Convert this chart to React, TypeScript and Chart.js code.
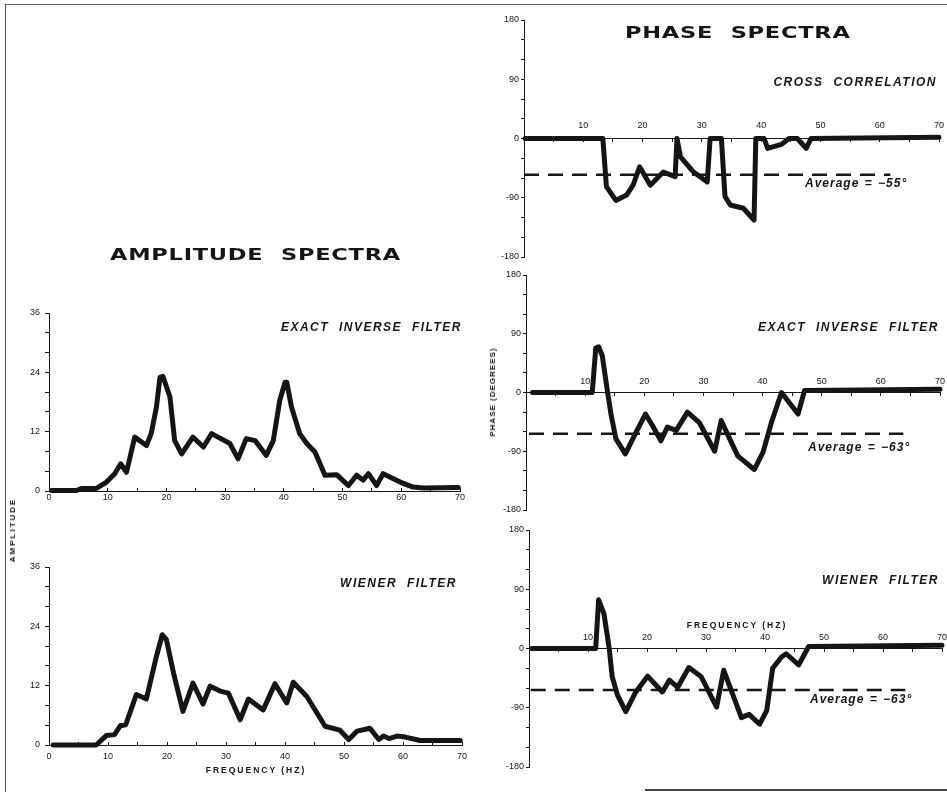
import React, { useEffect, useRef } from "react";
import { Chart, registerables } from "chart.js";

Chart.register(...registerables);

// ---------------- data ----------------
const ampExactFreq = [0.4, 4.7, 5.5, 8, 9.8, 11.2, 12.2, 13.2, 14.6, 16.6, 17.4, 18.3, 18.9, 19.4, 20.6, 21.4, 22.6, 24.5, 26.3, 27.7, 30.8, 32.2, 33.6, 35.1, 37, 38.2, 39.3, 40.2, 40.5, 41.3, 42.7, 43.9, 45.3, 47, 49, 51, 52.4, 53.5, 54.4, 55.8, 56.9, 59.8, 62, 63.8, 69.7];
const ampExactValues = [0.1, 0.1, 0.5, 0.5, 1.8, 3.5, 5.5, 3.8, 10.9, 9.2, 11.6, 17, 23, 23.2, 19, 10.2, 7.5, 10.9, 8.9, 11.6, 9.6, 6.5, 10.6, 10.2, 7.2, 10.2, 18.3, 22, 22, 17, 11.6, 9.6, 7.9, 3.2, 3.3, 1.1, 3.2, 2.2, 3.5, 1.1, 3.5, 1.8, 0.8, 0.6, 0.7];

const ampWienerFreq = [0.7, 8, 9.7, 11.1, 12.1, 13, 14.8, 16.5, 18.2, 19.2, 19.9, 21.1, 22.7, 24.4, 26.1, 27.3, 29, 30.4, 32.4, 33.8, 36.3, 38.3, 40.3, 41.4, 43.7, 46.8, 49.3, 50.8, 52.2, 54.4, 55.9, 56.7, 57.6, 59, 60.4, 62.9, 69.7];
const ampWienerValues = [0, 0, 1.9, 2.1, 3.9, 4.1, 10.2, 9.3, 17.9, 22.3, 21.3, 14.6, 6.8, 12.5, 8.3, 11.9, 10.9, 10.5, 5.1, 9.3, 7.1, 12.4, 8.5, 12.7, 9.8, 3.8, 3.0, 1.1, 2.8, 3.4, 1.1, 1.8, 1.3, 1.8, 1.6, 0.9, 0.9];

const phaseCrossFreq = [0.2, 13.3, 13.9, 15.5, 17.3, 18.4, 19.5, 21.3, 23.5, 25.5, 25.8, 26.4, 28.6, 30.9, 31.4, 33.3, 33.9, 34.8, 37, 38.8, 39.1, 40.5, 41.1, 43.4, 44.7, 46.1, 47.6, 48.4, 70];
const phaseCrossValues = [0, 0, -73, -94, -86, -71, -43, -71, -51, -58, 0, -28, -51, -66, 0, 0, -88, -101, -106, -124, 0, 0, -15, -9, 0, 0, -15, 0, 2];

const phaseExactFreq = [1.1, 11.2, 11.8, 12.3, 12.9, 13.8, 14.4, 15.2, 16.8, 18.6, 20.2, 21.4, 22.8, 23.9, 25.4, 27.3, 29.3, 31.9, 33, 35.8, 38.6, 40.1, 41.5, 43.2, 46, 47.1, 70];
const phaseExactValues = [0, 0, 68, 70, 56, 0, -35, -71, -94, -61, -33, -51, -74, -53, -58, -30, -46, -90, -43, -97, -118, -91, -46, 0, -33, 3, 5];

const phaseWienerFreq = [0.5, 11.3, 11.8, 12.7, 13.6, 14.1, 15, 16.4, 18.1, 20.1, 22.6, 23.8, 25.2, 27.1, 29.2, 31.8, 33, 36, 37.3, 39.1, 40.3, 41.3, 42.8, 43.6, 45.7, 47.4, 70];
const phaseWienerValues = [0, 0, 74, 53, 0, -43, -71, -96, -66, -42, -66, -48, -59, -29, -43, -89, -33, -105, -100, -115, -94, -30, -13, -8, -25, 3, 5];

const averageCross = -55;
const averageExact = -63;
const averageWiener = -63;
const averageCrossSpan = [0, 61.8];
const averageExactSpan = [0.5, 63.8];
const averageWienerSpan = [0.3, 63.8];

const amplitudeTickLabels = [0, 12, 24, 36];
const phaseTickLabels = [-180, -90, 0, 90, 180];
const ampFreqTickLabels = [0, 10, 20, 30, 40, 50, 60, 70];
const phaseFreqTickLabels = [10, 20, 30, 40, 50, 60, 70];

// ---------------- layout ----------------
const W = 947;
const H = 792;
const INK = "#151515";
const TICK_FONT = { family: "'Liberation Sans', Arial, sans-serif", size: 9 };

type Area = { left: number; top: number; right: number; bottom: number };

const pts = (f: number[], v: number[]) => f.map((x, i) => ({ x, y: v[i] }));

function curveDataset(f: number[], v: number[]) {
  return {
    data: pts(f, v),
    borderColor: INK,
    borderWidth: 5,
    pointRadius: 0,
    tension: 0,
    borderJoinStyle: "round",
    borderCapStyle: "round",
    clip: false,
  };
}

function avgDataset(span: number[], value: number) {
  return {
    data: [
      { x: span[0], y: value },
      { x: span[1], y: value },
    ],
    borderColor: INK,
    borderWidth: 2.5,
    borderDash: [15, 9],
    pointRadius: 0,
    clip: false,
  };
}

function amplitudeConfig(f: number[], v: number[], area: Area, xPad: number) {
  const yW = 40;
  const xH = 24;
  return {
    type: "line",
    data: { datasets: [curveDataset(f, v)] },
    options: {
      responsive: false,
      animation: false,
      devicePixelRatio: 1,
      events: [],
      layout: {
        padding: {
          left: area.left - yW,
          top: area.top,
          right: W - area.right,
          bottom: H - area.bottom - xH,
        },
      },
      plugins: { legend: { display: false }, tooltip: { enabled: false } },
      scales: {
        x: {
          type: "linear",
          position: "bottom",
          min: 0,
          max: 70,
          afterFit: (s: any) => {
            s.height = xH;
          },
          border: { display: true, color: INK, width: 1 },
          grid: { drawOnChartArea: false, tickLength: -3, color: INK, tickColor: INK, tickWidth: 1 },
          ticks: {
            stepSize: 5,
            autoSkip: false,
            maxRotation: 0,
            padding: xPad,
            color: INK,
            font: TICK_FONT,
            callback: (val: number) => (ampFreqTickLabels.includes(val) ? String(val) : ""),
          },
        },
        y: {
          type: "linear",
          position: "left",
          min: 0,
          max: 36,
          afterFit: (s: any) => {
            s.width = yW;
          },
          border: { display: true, color: INK, width: 1 },
          grid: { drawOnChartArea: false, tickLength: 4, color: INK, tickColor: INK, tickWidth: 1 },
          ticks: {
            stepSize: 4,
            autoSkip: false,
            padding: 5,
            color: INK,
            font: TICK_FONT,
            callback: (val: number) => (amplitudeTickLabels.includes(val) ? String(val) : ""),
          },
        },
      },
    },
  };
}

function phaseConfig(f: number[], v: number[], avg: number, span: number[], area: Area, xPad: number) {
  const yW = 40;
  return {
    type: "line",
    data: { datasets: [curveDataset(f, v), avgDataset(span, avg)] },
    options: {
      responsive: false,
      animation: false,
      devicePixelRatio: 1,
      events: [],
      layout: {
        padding: {
          left: area.left - yW,
          top: area.top,
          right: W - area.right,
          bottom: H - area.bottom,
        },
      },
      plugins: { legend: { display: false }, tooltip: { enabled: false } },
      scales: {
        x: {
          type: "linear",
          position: { y: 0 },
          min: 0,
          max: 70,
          border: { display: true, color: INK, width: 1 },
          grid: { drawOnChartArea: false, tickLength: 3, color: INK, tickColor: INK, tickWidth: 1 },
          ticks: {
            stepSize: 5,
            autoSkip: false,
            maxRotation: 0,
            padding: xPad,
            color: INK,
            font: TICK_FONT,
            callback: (val: number) => (phaseFreqTickLabels.includes(val) ? String(val) : ""),
          },
        },
        y: {
          type: "linear",
          position: "left",
          min: -180,
          max: 180,
          afterFit: (s: any) => {
            s.width = yW;
          },
          border: { display: true, color: INK, width: 1 },
          grid: { drawOnChartArea: false, tickLength: 3, color: INK, tickColor: INK, tickWidth: 1 },
          ticks: {
            stepSize: 30,
            autoSkip: false,
            padding: 2,
            color: INK,
            font: TICK_FONT,
            callback: (val: number) => (phaseTickLabels.includes(val) ? String(val) : ""),
          },
        },
      },
    },
  };
}

function PanelChart({ build }: { build: () => any }) {
  const ref = useRef<HTMLCanvasElement | null>(null);
  useEffect(() => {
    if (!ref.current) return;
    const chart = new Chart(ref.current, build());
    return () => chart.destroy();
  }, []);
  return (
    <canvas
      ref={ref}
      width={W}
      height={H}
      style={{ position: "absolute", left: 0, top: 0, width: W, height: H }}
    />
  );
}

const panelFont: React.CSSProperties = {
  fontFamily: "'Liberation Sans', Arial, sans-serif",
  fontWeight: "bold",
  fontStyle: "italic",
  fontSize: 12,
  letterSpacing: "1.5px",
  wordSpacing: "5px",
  color: INK,
  whiteSpace: "nowrap",
  lineHeight: 1,
  position: "absolute",
};

const titleFont: React.CSSProperties = {
  fontFamily: "'DejaVu Sans', sans-serif",
  fontWeight: "bold",
  fontSize: 15,
  letterSpacing: "0.5px",
  wordSpacing: "6px",
  color: INK,
  whiteSpace: "nowrap",
  lineHeight: 1,
  position: "absolute",
  transformOrigin: "left center",
};

const axisTitleFont: React.CSSProperties = {
  fontFamily: "'Liberation Sans', Arial, sans-serif",
  fontWeight: "bold",
  fontSize: 8.5,
  letterSpacing: "2px",
  color: INK,
  whiteSpace: "nowrap",
  lineHeight: 1,
  position: "absolute",
};

function RightLabel({ right, cy, text }: { right: number; cy: number; text: string }) {
  return <div style={{ ...panelFont, right: W - right - 2, top: cy, transform: "translateY(-50%)" }}>{text}</div>;
}

function AvgLabel({ left, cy, text }: { left: number; cy: number; text: string }) {
  return <div style={{ ...panelFont, letterSpacing: "1px", wordSpacing: "1px", left, top: cy, transform: "translateY(-50%)" }}>{text}</div>;
}

export default function App() {
  const areaAmpTop = { left: 49, right: 460, top: 313, bottom: 491 };
  const areaAmpBot = { left: 49, right: 462, top: 567, bottom: 745 };
  const areaPhTop = { left: 524, right: 939, top: 20, bottom: 257 };
  const areaPhMid = { left: 526, right: 940, top: 275, bottom: 510 };
  const areaPhBot = { left: 529, right: 942, top: 530, bottom: 767 };

  return (
    <div style={{ position: "fixed", left: 0, top: 0, width: W, height: H, background: "#fff", overflow: "hidden" }}>
      {/* scanned frame lines */}
      <div style={{ position: "absolute", left: 5, top: 4, width: W - 5, height: 1, background: "#666" }} />
      <div style={{ position: "absolute", left: 5, top: 4, width: 1, height: H - 4, background: "#555" }} />
      <div style={{ position: "absolute", left: 645, top: 789, width: W - 645, height: 2, background: "#444" }} />

      <PanelChart build={() => amplitudeConfig(ampExactFreq, ampExactValues, areaAmpTop, 4)} />
      <PanelChart build={() => amplitudeConfig(ampWienerFreq, ampWienerValues, areaAmpBot, 9)} />
      <PanelChart build={() => phaseConfig(phaseCrossFreq, phaseCrossValues, averageCross, averageCrossSpan, areaPhTop, -21)} />
      <PanelChart build={() => phaseConfig(phaseExactFreq, phaseExactValues, averageExact, averageExactSpan, areaPhMid, -19)} />
      <PanelChart build={() => phaseConfig(phaseWienerFreq, phaseWienerValues, averageWiener, averageWienerSpan, areaPhBot, -19)} />

      {/* titles */}
      <div style={{ ...titleFont, left: 625, top: 33, transform: "translateY(-50%) scaleX(1.5)" }}>PHASE SPECTRA</div>
      <div style={{ ...titleFont, left: 110, top: 255, transform: "translateY(-50%) scaleX(1.5)" }}>AMPLITUDE SPECTRA</div>

      {/* panel labels */}
      <RightLabel right={935} cy={82} text="CROSS CORRELATION" />
      <RightLabel right={937} cy={327} text="EXACT INVERSE FILTER" />
      <RightLabel right={937} cy={580} text="WIENER FILTER" />
      <RightLabel right={460} cy={327} text="EXACT INVERSE FILTER" />
      <RightLabel right={455} cy={583} text="WIENER FILTER" />

      <AvgLabel left={805} cy={183} text={"Average = \u221255\u00b0"} />
      <AvgLabel left={808} cy={447} text={"Average = \u221263\u00b0"} />
      <AvgLabel left={810} cy={699} text={"Average = \u221263\u00b0"} />

      {/* axis titles */}
      <div style={{ ...axisTitleFont, left: 256, top: 770, transform: "translate(-50%, -50%)" }}>FREQUENCY (HZ)</div>
      <div style={{ ...axisTitleFont, left: 737, top: 625, transform: "translate(-50%, -50%)" }}>FREQUENCY (HZ)</div>
      <div style={{ ...axisTitleFont, fontSize: 8, left: 13, top: 530, transform: "translate(-50%, -50%) rotate(-90deg)" }}>AMPLITUDE</div>
      <div style={{ ...axisTitleFont, fontSize: 8, letterSpacing: "1px", left: 493, top: 392, transform: "translate(-50%, -50%) rotate(-90deg)" }}>PHASE (DEGREES)</div>
    </div>
  );
}
